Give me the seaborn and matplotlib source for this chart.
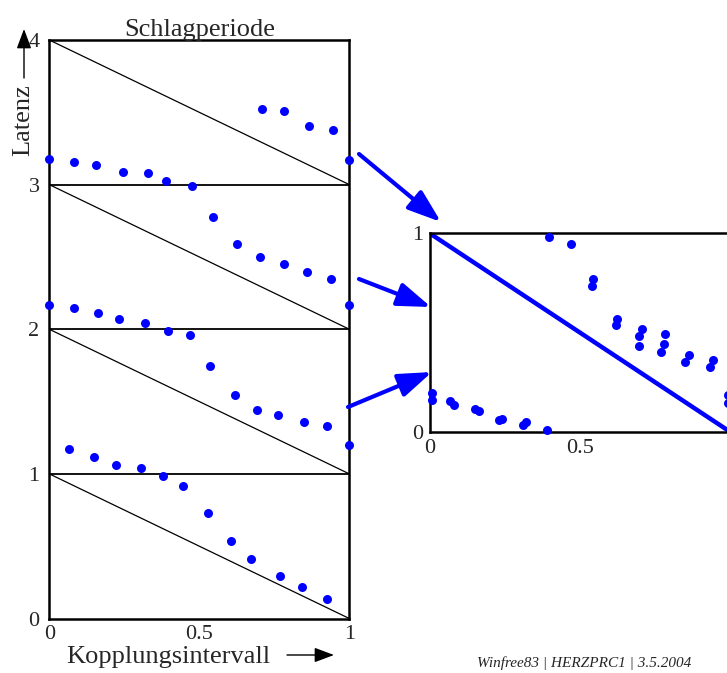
import matplotlib
matplotlib.use("Agg")
import matplotlib.pyplot as plt
import seaborn as sns
from matplotlib.patches import FancyArrowPatch

W, H = 727, 673

# Latency (in beat periods) against coupling interval
coupling = [0.000, 0.082, 0.156, 0.247, 0.328, 0.388, 0.477,
            0.710, 0.782, 0.867, 0.947, 1.000,
            0.545, 0.627, 0.702, 0.783, 0.858, 0.938, 1.000,
            0.000, 0.082, 0.163, 0.231, 0.320, 0.397, 0.468,
            0.537, 0.620, 0.693, 0.761, 0.850, 0.926, 1.000,
            0.067, 0.150, 0.223, 0.307, 0.379,
            0.446, 0.529, 0.605, 0.672, 0.770, 0.843, 0.927]
latency = [3.178, 3.155, 3.134, 3.088, 3.081, 3.028, 2.993,
           3.524, 3.512, 3.406, 3.378, 3.171,
           2.779, 2.588, 2.498, 2.454, 2.396, 2.346, 2.166,
           2.166, 2.145, 2.115, 2.071, 2.046, 1.988, 1.961,
           1.744, 1.548, 1.442, 1.409, 1.361, 1.331, 1.198,
           1.170, 1.117, 1.064, 1.043, 0.985,
           0.919, 0.732, 0.534, 0.414, 0.296, 0.216, 0.137]

# The same responses folded into one period
coupling_folded = [0.398, 0.471, 0.542, 0.541, 0.624, 0.619, 0.706, 0.697,
                   0.696, 0.783, 0.780, 0.768, 0.861, 0.850, 0.941, 0.932,
                   0.991, 0.991,
                   0.009, 0.009, 0.068, 0.081, 0.150, 0.165, 0.230, 0.241,
                   0.311, 0.319, 0.390]
latency_folded = [0.980, 0.948, 0.770, 0.733, 0.569, 0.538, 0.518, 0.483,
                  0.431, 0.493, 0.443, 0.401, 0.388, 0.352, 0.361, 0.329,
                  0.185, 0.148,
                  0.198, 0.161, 0.156, 0.136, 0.114, 0.104, 0.060, 0.065,
                  0.037, 0.050, 0.008]

period_levels = [1, 2, 3]
band_tops = [1, 2, 3, 4]

x_ticks = [0, 0.5, 1]
x_ticklabels = ["0", "0.5", "1"]
y_ticks = [0, 1, 2, 3, 4]
y_ticklabels = ["0", "1", "2", "3", "4"]
y_ticks_folded = [0, 1]
y_ticklabels_folded = ["0", "1"]

sns.set_style("white")
plt.rcParams["font.family"] = ["Liberation Serif", "DejaVu Serif"]

BLUE = "#0000ff"
TICK_RED = "#ff0000"
TICK_DARK = "#7a0000"


def fx(px):
    return px / W


def fy(py):
    return 1 - py / H


def frame(ax):
    for sp in ax.spines.values():
        sp.set_linewidth(1.8)
        sp.set_color("black")
        sp.set_visible(True)


fig = plt.figure(figsize=(W / 100, H / 100), dpi=100)

# ---- main panel -------------------------------------------------------
ax1 = fig.add_axes([fx(49.3), fy(618.5), 300 / W, 578.5 / H])
for top in band_tops:
    ax1.plot([0, 1], [top, top - 1], color="black", lw=0.9, zorder=1)
for lvl in period_levels:
    ax1.plot([0, 1], [lvl, lvl], color="black", lw=1.3, zorder=1)
sns.scatterplot(x=coupling, y=latency, ax=ax1, color=BLUE, s=42,
                linewidth=0, clip_on=False, zorder=3)
ax1.set_xlim(0, 1)
ax1.set_ylim(0, 4)
ax1.set_xticks(x_ticks)
ax1.set_xticklabels(x_ticklabels)
ax1.set_yticks(y_ticks)
ax1.set_yticklabels(y_ticklabels)
ax1.set_xticks([0.5], minor=True)
ax1.set_yticks([0.5, 1.5, 2.5, 3.5], minor=True)
ax1.tick_params(axis="both", which="major", length=0, labelsize=16)
ax1.tick_params(axis="x", which="major", pad=5)
ax1.tick_params(axis="y", which="major", pad=7)
ax1.tick_params(axis="x", which="minor", direction="in", length=7,
                width=1.0, color=TICK_DARK)
ax1.tick_params(axis="y", which="minor", direction="in", length=3,
                width=0.8, color=TICK_RED)
ax1.set_xlabel("")
ax1.set_ylabel("")
frame(ax1)
ax1.set_title("Schlagperiode", fontsize=19, pad=3)

# ---- folded panel -----------------------------------------------------
ax2 = fig.add_axes([fx(429.7), fy(432), 300.7 / W, 198.7 / H])
ax2.plot([0, 1], [1, 0], color=BLUE, lw=3.2, zorder=2)
sns.scatterplot(x=coupling_folded, y=latency_folded, ax=ax2, color=BLUE,
                s=42, linewidth=0, clip_on=False, zorder=3)
ax2.set_xlim(0, 1)
ax2.set_ylim(0, 1)
ax2.set_xticks(x_ticks)
ax2.set_xticklabels(x_ticklabels)
ax2.set_yticks(y_ticks_folded)
ax2.set_yticklabels(y_ticklabels_folded)
ax2.set_xticks([0.5], minor=True)
ax2.set_yticks([0.5], minor=True)
ax2.tick_params(axis="both", which="major", length=0, labelsize=16, pad=5)
ax2.tick_params(axis="x", which="minor", direction="in", length=7,
                width=1.0, color=TICK_DARK)
ax2.tick_params(axis="y", which="minor", direction="in", length=3,
                width=0.8, color=TICK_RED)
ax2.set_xlabel("")
ax2.set_ylabel("")
frame(ax2)

# ---- axis captions ----------------------------------------------------
fig.text(fx(168), fy(663), "Kopplungsintervall", fontsize=19,
         ha="center", va="baseline")
fig.add_artist(FancyArrowPatch((fx(287), fy(655)), (fx(334), fy(655)),
                               transform=fig.transFigure,
                               arrowstyle="-|>,head_length=1.2,head_width=0.45",
                               mutation_scale=10, color="black", lw=1.0,
                               shrinkA=0, shrinkB=0))
fig.text(fx(23), fy(120), "Latenz", fontsize=19, rotation=90,
         ha="center", va="center")
fig.add_artist(FancyArrowPatch((fx(24), fy(78)), (fx(24), fy(29)),
                               transform=fig.transFigure,
                               arrowstyle="-|>,head_length=1.2,head_width=0.45",
                               mutation_scale=10, color="black", lw=1.0,
                               shrinkA=0, shrinkB=0))

# ---- arrows from each period band to the folded panel -----------------
for (x0, y0), (x1, y1) in [((359, 154), (441, 222)),
                           ((359, 279), (431, 307)),
                           ((348, 407), (432, 372))]:
    fig.add_artist(FancyArrowPatch((fx(x0), fy(y0)), (fx(x1), fy(y1)),
                                   transform=fig.transFigure,
                                   arrowstyle="-|>,head_length=1.7,head_width=0.6",
                                   mutation_scale=12, color=BLUE, lw=3.0,
                                   shrinkA=0, shrinkB=0))

fig.text(fx(584), fy(667), "Winfree83 | HERZPRC1 | 3.5.2004", fontsize=11,
         style="italic", ha="center", va="baseline")

fig.savefig("out.png", dpi=100)
